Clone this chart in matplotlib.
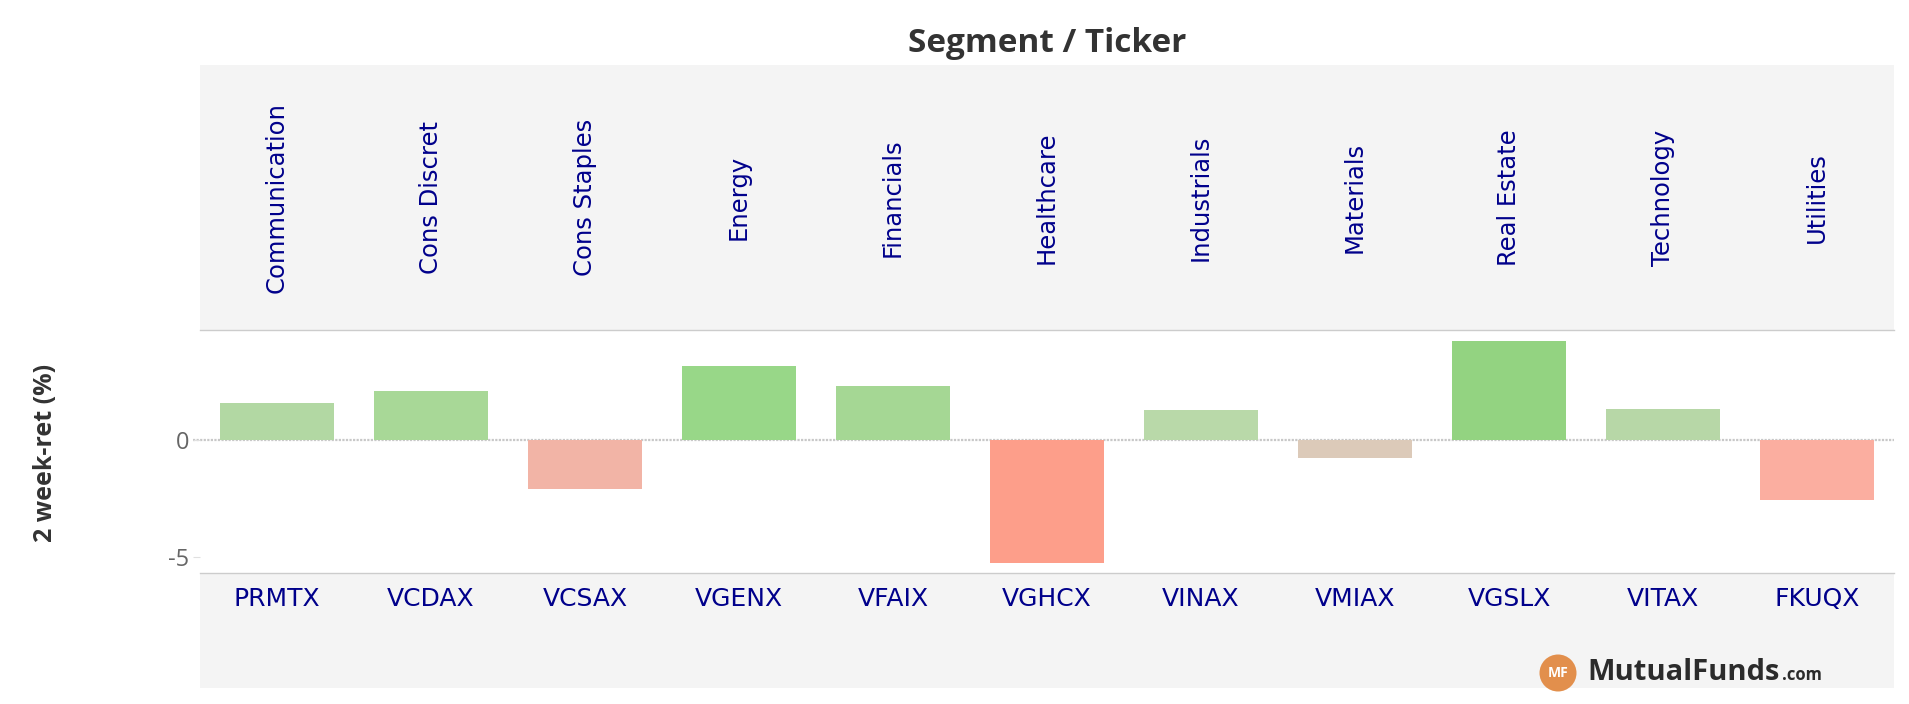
import matplotlib
matplotlib.use("Agg")
import matplotlib.pyplot as plt
from matplotlib.patches import Ellipse

# data
segments = ["Communication", "Cons Discret", "Cons Staples", "Energy", "Financials",
            "Healthcare", "Industrials", "Materials", "Real Estate", "Technology", "Utilities"]
tickers = ["PRMTX", "VCDAX", "VCSAX", "VGENX", "VFAIX", "VGHCX",
           "VINAX", "VMIAX", "VGSLX", "VITAX", "FKUQX"]
ret_2wk = [1.56, 2.08, -2.10, 3.14, 2.29, -5.26, 1.27, -0.78, 4.21, 1.31, -2.57]
yticks = [0, -5]

bar_colors = ["#b2d8a3", "#a8d897", "#f2b4a6", "#98d788", "#a5d794", "#fd9e8a",
              "#b9d9a9", "#dccab9", "#93d381", "#b7d7a7", "#fbaea0"]

W, H = 1909, 704
fig = plt.figure(figsize=(W / 100, H / 100), dpi=100)
fig.patch.set_facecolor("white")

def box(x0, y0, x1, y1):
    # pixel box (top-left origin) -> figure fraction rect
    return [x0 / W, 1 - y1 / H, (x1 - x0) / W, (y1 - y0) / H]

panel_grey = "#f4f4f4"
line_grey = "#cccccc"
navy = "#00008b"
n = len(tickers)
xs = list(range(n))

# header with segment names
hdr = fig.add_axes(box(200, 65, 1894, 330))
hdr.set_facecolor(panel_grey)
hdr.set_xlim(-0.5, n - 0.5)
hdr.set_ylim(0, 1)
for s in hdr.spines.values():
    s.set_visible(False)
hdr.set_xticks([])
hdr.set_yticks([])
for i, seg in enumerate(segments):
    hdr.text(i, 0.5, seg, rotation=90, ha="center", va="center",
             fontsize=17.5, color=navy, family="DejaVu Sans")

# footer with tickers
ftr = fig.add_axes(box(200, 573.3, 1894, 688))
ftr.set_facecolor(panel_grey)
ftr.set_xlim(-0.5, n - 0.5)
ftr.set_ylim(0, 1)
for s in ftr.spines.values():
    s.set_visible(False)
ftr.set_xticks([])
ftr.set_yticks([])
for i, t in enumerate(tickers):
    ftr.text(i, 0.775, t, ha="center", va="center", fontsize=18, color=navy,
             family="DejaVu Sans")

# main bar panel (on top so its border lines show over the grey bands)
ax = fig.add_axes(box(200, 330, 1894, 573.3))
ax.set_zorder(3)
ax.set_facecolor("white")
ax.bar(xs, ret_2wk, width=0.74, color=bar_colors, zorder=2)
ax.axhline(0, color="#c8c8c8", linewidth=1.6, linestyle=(0, (1, 0.6)), zorder=1,
           xmin=-0.004, clip_on=False)
ax.set_xlim(-0.5, n - 0.5)
ax.set_ylim(-5.69, 4.68)
ax.set_xticks([])
ax.set_yticks(yticks)
ax.set_yticklabels([str(t) for t in yticks], fontsize=17, color="#666666", family="Open Sans")
ax.tick_params(axis="y", length=5, width=0.8, color="#e0e0e0", pad=3)
for side in ["left", "right"]:
    ax.spines[side].set_visible(False)
for side in ["top", "bottom"]:
    ax.spines[side].set_color(line_grey)
    ax.spines[side].set_linewidth(1.0)
ax.set_ylabel("2 week-ret (%)", fontsize=18, fontweight="bold", color="#333333",
              family="Open Sans", labelpad=0)
ax.yaxis.set_label_coords(-142 / 1694, 0.495)

# title
fig.text(1047 / W, 1 - 43 / H, "Segment / Ticker", ha="center", va="center",
         fontsize=24, fontweight="bold", color="#333333", family="Open Sans")

# logo
logo_y = 1 - 673 / H
fig.patches.append(Ellipse((1558 / W, logo_y), 37 / W, 37 / H,
                           transform=fig.transFigure,
                           facecolor="#e28f4c", edgecolor="none"))
fig.text(1558 / W, logo_y, "MF", ha="center", va="center", fontsize=10,
         fontweight="bold", color="white", family="Open Sans")
fig.text(1587 / W, logo_y, "MutualFunds", ha="left", va="center", fontsize=21,
         fontweight="bold", color="#2b2b2b", family="Open Sans")
fig.text(1782 / W, 1 - 680 / H, ".com", ha="left", va="baseline", fontsize=12,
         fontweight="bold", color="#2b2b2b", family="Open Sans")

fig.savefig("out.png", dpi=100, facecolor="white")
